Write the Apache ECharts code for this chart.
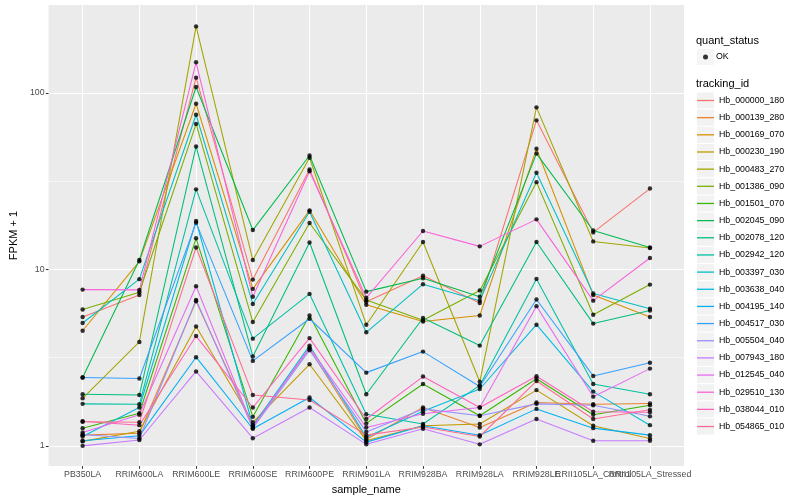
<!DOCTYPE html>
<html><head><meta charset="utf-8">
<script src="https://cdn.jsdelivr.net/npm/echarts@6/dist/echarts.min.js"></script>
<style>html,body{margin:0;padding:0;background:#fff}#c{width:800px;height:500px}</style>
</head><body><div id="c"></div>
<script>
const categories = ['PB350LA','RRIM600LA','RRIM600LE','RRIM600SE','RRIM600PE','RRIM901LA','RRIM928BA','RRIM928LA','RRIM928LE','RRII105LA_Control','RRII105LA_Stressed'];
const trackingIds = ['Hb_000000_180','Hb_000139_280','Hb_000169_070','Hb_000230_190','Hb_000483_270','Hb_001386_090','Hb_001501_070','Hb_002045_090','Hb_002078_120','Hb_002942_120','Hb_003397_030','Hb_003638_040','Hb_004195_140','Hb_004517_030','Hb_005504_040','Hb_007943_180','Hb_012545_040','Hb_029510_130','Hb_038044_010','Hb_054865_010'];
const colors = ['#F8766D','#EA8331','#D89000','#C09B00','#A3A500','#7CAE00','#39B600','#00BB4E','#00BF7D','#00C1A3','#00BFC4','#00BAE0','#00B0F6','#35A2FF','#9590FF','#C77CFF','#E76BF3','#FA62DB','#FF62BC','#FF6C91'];
const yTicks = [1, 10, 100];
const yMinorGrid = [3.1623, 31.623];

const hb_000000_180 = [5.37, 7.16, 122, 8.75, 36.8, 6.55, 9.2, 6.45, 69.9, 16.2, 28.7];
const hb_000139_280 = [1.15, 1.18, 6.6, 1.31, 3.55, 1.09, 1.65, 1.27, 1.76, 1.72, 1.74];
const hb_000169_070 = [4.49, 11.1, 86.8, 7.75, 21.6, 6.3, 5.07, 5.48, 48.2, 7.15, 5.37];
const hb_000230_190 = [1.06, 1.21, 4.75, 1.36, 2.9, 1.07, 1.3, 1.33, 2.07, 1.3, 1.1];
const hb_000483_270 = [1.86, 3.88, 238, 11.3, 42.9, 4.86, 14.3, 2.31, 82.8, 14.4, 13.2];
const hb_001386_090 = [5.93, 7.42, 66.7, 5.03, 18.3, 6.7, 5.15, 7.6, 31.2, 5.53, 8.2];
const hb_001501_070 = [1.26, 1.53, 15.0, 1.46, 5.48, 1.34, 2.24, 1.48, 2.4, 1.5, 1.7];
const hb_002045_090 = [2.44, 11.3, 108, 16.7, 44.2, 7.48, 8.9, 7.0, 45.3, 16.6, 13.3];
const hb_002078_120 = [1.96, 1.94, 49.7, 3.21, 14.2, 1.96, 5.3, 3.7, 14.3, 4.93, 5.85];
const hb_002942_120 = [1.73, 1.72, 28.4, 4.05, 7.26, 1.51, 1.33, 2.2, 8.83, 2.24, 1.96];
const hb_003397_030 = [4.97, 8.8, 75.2, 6.37, 21.2, 4.4, 8.24, 6.65, 35.3, 7.3, 5.98];
const hb_003638_040 = [1.13, 1.65, 18.8, 1.3, 3.7, 1.12, 1.57, 2.1, 4.86, 2.03, 1.31];
const hb_004195_140 = [1.07, 1.14, 3.18, 1.25, 1.88, 1.05, 1.3, 1.15, 1.62, 1.26, 1.15];
const hb_004517_030 = [2.44, 2.41, 18.4, 3.03, 5.25, 2.6, 3.42, 2.17, 6.75, 2.49, 2.96];
const hb_005504_040 = [1.16, 1.1, 6.7, 1.26, 3.48, 1.2, 1.62, 1.48, 1.73, 1.7, 1.47];
const hb_007943_180 = [1.0, 1.08, 2.64, 1.105, 1.65, 1.02, 1.25, 1.02, 1.42, 1.07, 1.07];
const hb_012545_040 = [1.19, 1.5, 8.03, 1.28, 3.6, 1.27, 1.52, 1.65, 6.19, 1.9, 2.74];
const hb_029510_130 = [7.68, 7.65, 149, 7.0, 36.0, 6.9, 16.5, 13.5, 19.2, 6.65, 11.6];
const hb_038044_010 = [1.38, 1.31, 4.19, 1.65, 4.08, 1.42, 2.47, 1.65, 2.48, 1.56, 1.55];
const hb_054865_010 = [1.37, 1.36, 13.3, 1.94, 1.82, 1.15, 1.28, 1.13, 2.33, 1.42, 1.6];

const allValues = [hb_000000_180, hb_000139_280, hb_000169_070, hb_000230_190, hb_000483_270, hb_001386_090, hb_001501_070, hb_002045_090, hb_002078_120, hb_002942_120, hb_003397_030, hb_003638_040, hb_004195_140, hb_004517_030, hb_005504_040, hb_007943_180, hb_012545_040, hb_029510_130, hb_038044_010, hb_054865_010];

const FONT = 'Liberation Sans';
const xPos = categories.map((c, i) => i + 1);
// labels split over two axes so that overlapping neighbours are both drawn
const xLabelsA = xPos.filter(p => p % 2 === 1);
const xLabelsB = xPos.filter(p => p % 2 === 0);

const series = trackingIds.map((name, i) => ({
  name: name,
  type: 'line',
  color: colors[i],
  data: allValues[i].map((v, j) => [xPos[j], v]),
  symbol: 'none',
  showSymbol: false,
  lineStyle: { width: 1.07, color: colors[i] },
  z: 2,
  silent: true,
  animation: false
}));
series[0].markLine = {
  silent: true, symbol: 'none', z: 1, animation: false,
  label: { show: false },
  lineStyle: { color: '#FFFFFF', width: 0.55, type: 'solid' },
  emphasis: { disabled: true },
  data: yMinorGrid.map(v => ({ yAxis: v }))
};
const points = [];
allValues.forEach(arr => arr.forEach((v, j) => points.push([xPos[j], v])));
series.push({
  name: 'OK', type: 'scatter', data: points, symbol: 'circle', symbolSize: 4.4,
  itemStyle: { color: '#000000' }, z: 10, silent: true, animation: false
});

const axisLabelBase = { margin: 4, fontFamily: FONT, fontSize: 8.8, color: '#4D4D4D', hideOverlap: false,
  showMinLabel: true, showMaxLabel: true, formatter: v => categories[Math.round(v) - 1] || '' };
const legendText = { fontFamily: FONT, fontSize: 8.8, color: '#000000', lineHeight: 16 };
const chart = echarts.init(document.getElementById('c'), null, { renderer: 'canvas' });
chart.setOption({
  animation: false,
  backgroundColor: '#FFFFFF',
  title: [
    { text: 'quant_status', left: 696, top: 35, padding: [0,0,0,0], textStyle: { fontFamily: FONT, fontSize: 11, fontWeight: 'normal', color: '#000' } },
    { text: 'tracking_id', left: 696, top: 78, padding: [0,0,0,0], textStyle: { fontFamily: FONT, fontSize: 11, fontWeight: 'normal', color: '#000' } }
  ],
  grid: { left: 40, top: 5, width: 644, height: 463, show: true, backgroundColor: '#EBEBEB', borderWidth: 0, containLabel: false },
  xAxis: [{
    type: 'value', min: 0.4, max: 11.6, position: 'bottom',
    name: 'sample_name', nameLocation: 'middle', nameGap: 13,
    nameTextStyle: { fontFamily: FONT, fontSize: 11, color: '#000' },
    axisLine: { show: false },
    axisTick: { show: true, customValues: xPos, length: 2.7, lineStyle: { color: '#333333', width: 1.07 } },
    axisLabel: Object.assign({ customValues: xLabelsA }, axisLabelBase),
    splitLine: { show: true, lineStyle: { color: '#FFFFFF', width: 1.07 } },
    minorSplitLine: { show: false }
  }, {
    type: 'value', min: 0.4, max: 11.6, position: 'bottom', offset: 0,
    axisLine: { show: false },
    axisTick: { show: false, customValues: xLabelsB },
    axisLabel: Object.assign({ customValues: xLabelsB }, axisLabelBase),
    splitLine: { show: false }
  }],
  yAxis: {
    type: 'log', logBase: 10, min: 0.768, max: 314.7,
    name: 'FPKM + 1', nameLocation: 'middle', nameGap: 22, nameRotate: 90,
    nameTextStyle: { fontFamily: FONT, fontSize: 11, color: '#000' },
    axisLine: { show: false },
    axisTick: { show: true, customValues: yTicks, length: 2.7, lineStyle: { color: '#333333', width: 1.07 } },
    axisLabel: { customValues: yTicks, margin: 4, fontFamily: FONT, fontSize: 8.8, color: '#4D4D4D',
      showMinLabel: true, showMaxLabel: true,
      formatter: v => String(Math.round(v)) },
    splitLine: { show: true, lineStyle: { color: '#FFFFFF', width: 1.07 } }
  },
  legend: [
    {
      data: ['OK'], left: 697, top: 49, orient: 'vertical', padding: 0, itemGap: 0,
      icon: 'rect', itemWidth: 17, itemHeight: 16, selectedMode: false,
      itemStyle: { color: '#F2F2F2', borderWidth: 0 },
      textStyle: Object.assign({}, legendText, { color: 'rgba(0,0,0,0)' }), z: 3
    },
    {
      data: ['OK'], left: 703, top: 49, orient: 'vertical', padding: 0, itemGap: 0,
      icon: 'circle', itemWidth: 5, itemHeight: 5, selectedMode: false,
      itemStyle: { color: '#000000', borderWidth: 0 },
      textStyle: Object.assign({}, legendText, { padding: [0, 0, 0, 3] }), z: 4
    },
    {
      data: trackingIds, left: 697, top: 92.5, orient: 'vertical', padding: 0, itemGap: 1.16,
      icon: 'rect', itemWidth: 17, itemHeight: 16, selectedMode: false,
      itemStyle: { color: '#F2F2F2', borderWidth: 0 },
      textStyle: Object.assign({}, legendText, { color: 'rgba(0,0,0,0)' }), z: 3
    },
    {
      data: trackingIds.map((n, i) => ({ name: n, itemStyle: { color: colors[i] } })),
      left: 697, top: 92.5, orient: 'vertical', padding: 0, itemGap: 1.16,
      icon: 'rect', itemWidth: 17, itemHeight: 1.3, selectedMode: false,
      itemStyle: { borderWidth: 0 },
      textStyle: legendText, z: 4
    }
  ],
  series: series
});
</script></body></html>
